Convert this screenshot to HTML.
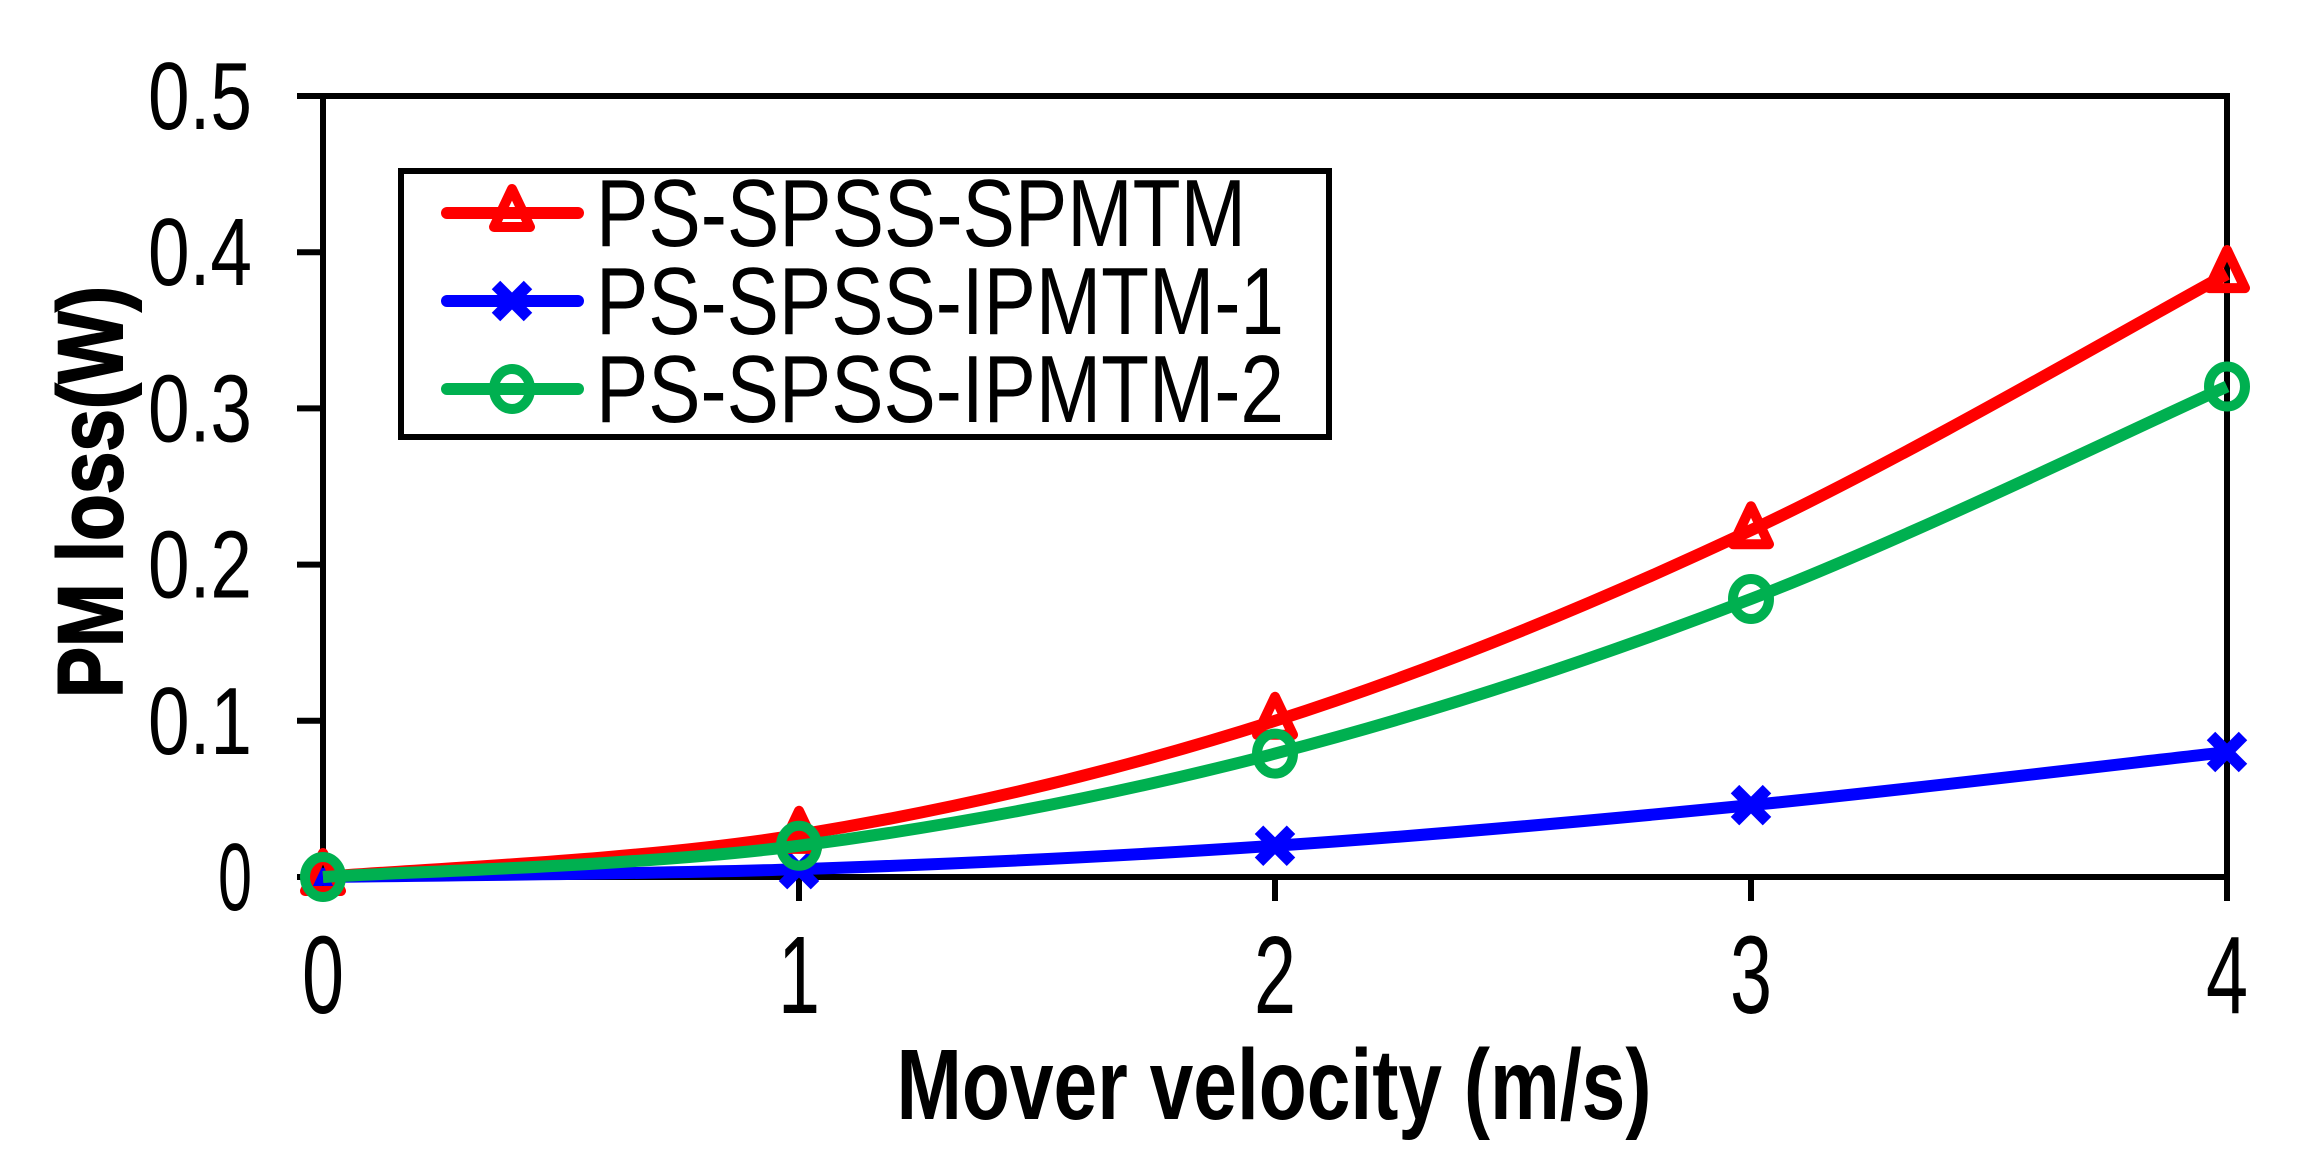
<!DOCTYPE html>
<html><head><meta charset="utf-8"><style>
html,body{margin:0;padding:0;background:#fff}
svg{display:block}
text{font-family:"Liberation Sans Narrow","Liberation Sans",sans-serif}
</style></head><body>
<svg id="chart" width="2302" height="1168" viewBox="0 0 2302 1168" xmlns="http://www.w3.org/2000/svg">
<g id="axes"></g><g id="series"></g>
<text transform="translate(122,492) rotate(-90)" text-anchor="middle" font-family="Liberation Sans, sans-serif" font-weight="bold" font-size="92" textLength="412" lengthAdjust="spacingAndGlyphs" stroke="#000" stroke-width="2">PM loss(W)</text>
<text x="1274" y="1119" text-anchor="middle" font-weight="bold" font-size="100" textLength="755" lengthAdjust="spacingAndGlyphs">Mover velocity (m/s)</text>
<g>
<rect x="401" y="171" width="928" height="266" fill="#fff" stroke="#000" stroke-width="6"/>
<g id="legend-entries"></g>
</g>
</svg>
<script>
const xCats=[0,1,2,3,4];
const redVals=[0,0.027,0.1,0.222,0.386];
const blueVals=[0,0.005,0.02,0.046,0.08];
const greenVals=[0,0.02,0.079,0.178,0.314];
const yTicks=[0,0.1,0.2,0.3,0.4,0.5];
const yTickLabels=["0","0.1","0.2","0.3","0.4","0.5"];
const xTickLabels=["0","1","2","3","4"];
const seriesNames=["PS-SPSS-SPMTM","PS-SPSS-IPMTM-1","PS-SPSS-IPMTM-2"];

const NS="http://www.w3.org/2000/svg";
const X0=323,X1=2227,Y0=877,Y1=96;
const xs=v=>X0+(v-0)/(4-0)*(X1-X0);
const ys=v=>Y0-(v-0)/(0.5-0)*(Y0-Y1);
function mk(tag,at,parent){const e=document.createElementNS(NS,tag);for(const k in at)e.setAttribute(k,at[k]);parent.appendChild(e);return e;}
const axes=document.getElementById('axes');
let fr=mk('rect',{x:X0,y:Y1,width:X1-X0,height:Y0-Y1,fill:'none',stroke:'#000','stroke-width':6},axes);


yTicks.forEach((t,i)=>{
 let l=mk('line',{x1:297,x2:X0,y1:ys(t),y2:ys(t),stroke:'#000','stroke-width':6},axes);
 
 
 const lab=yTickLabels[i];
 let tx=mk('text',{x:252,y:ys(t)+33,'text-anchor':'end','font-size':96,textLength:lab.length>1?104:34,lengthAdjust:'spacingAndGlyphs'},axes);
 tx.textContent=lab;
 
 
});
xCats.forEach((c,i)=>{
 let l=mk('line',{x1:xs(c),x2:xs(c),y1:Y0,y2:901,stroke:'#000','stroke-width':6},axes);
 
 
 let tx=mk('text',{x:xs(c),y:1013,'text-anchor':'middle','font-size':110,textLength:42,lengthAdjust:'spacingAndGlyphs'},axes);
 tx.textContent=xTickLabels[i];
 
 
});
function smooth(pts){let d=`M${pts[0][0]},${pts[0][1]}`;for(let i=0;i<pts.length-1;i++){const p0=pts[i-1]||pts[i],p1=pts[i],p2=pts[i+1],p3=pts[i+2]||p2;d+=` C${p1[0]+(p2[0]-p0[0])/6},${p1[1]+(p2[1]-p0[1])/6} ${p2[0]-(p3[0]-p1[0])/6},${p2[1]-(p3[1]-p1[1])/6} ${p2[0]},${p2[1]}`;}return d;}
function marker(type,x,y,col,g){
 let m;
 if(type==='tri'){m=mk('path',{d:`M${x},${y-24} L${x+18},${y+14} L${x-18},${y+14} Z`,fill:'none',stroke:col,'stroke-width':10,'stroke-linejoin':'round'},g);}
 else if(type==='x'){m=mk('path',{d:`M${x-16},${y-16} L${x+16},${y+16} M${x+16},${y-16} L${x-16},${y+16}`,stroke:col,'stroke-width':12},g);}
 else {m=mk('ellipse',{cx:x,cy:y,rx:18,ry:20,fill:'none',stroke:col,'stroke-width':10},g);}
 
 
}
const ser=document.getElementById('series');
const defs=[[blueVals,'#0000ff','x'],[redVals,'#ff0000','tri'],[greenVals,'#00b050','o']];
defs.forEach(([vals,col,type])=>{
 const g=mk('g',{},ser);
 
 
 const pts=xCats.map((c,i)=>[xs(c),ys(vals[i])]);
 let p=mk('path',{d:smooth(pts),fill:'none',stroke:col,'stroke-width':12},g);
 
 
 pts.forEach(q=>marker(type,q[0],q[1],col,g));
});
const le=document.getElementById('legend-entries');
const lcols=['#ff0000','#0000ff','#00b050'],ltypes=['tri','x','o'],lys=[213,301,389],lw=[650,688,688];
seriesNames.forEach((n,i)=>{
 const g=mk('g',{},le);
 
 
 mk('line',{x1:447,x2:578,y1:lys[i],y2:lys[i],stroke:lcols[i],'stroke-width':12,'stroke-linecap':'round'},g);
 marker(ltypes[i],512,lys[i],lcols[i],g);
 const t=mk('text',{x:596,y:lys[i]+33,'font-size':96,textLength:lw[i],lengthAdjust:'spacingAndGlyphs'},g);
 t.textContent=n;
 
 
});
</script>
</body></html>
